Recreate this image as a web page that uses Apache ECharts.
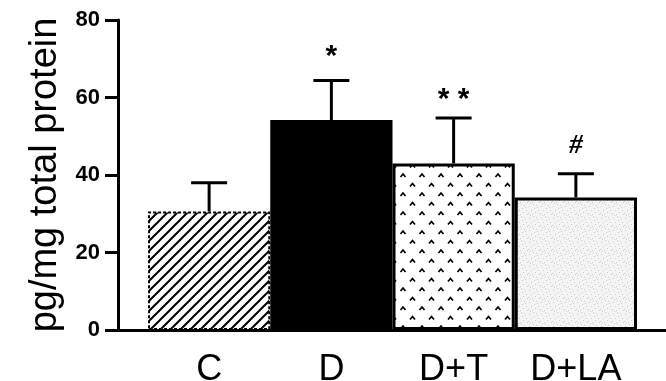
<!DOCTYPE html>
<html>
<head>
<meta charset="utf-8">
<script src="https://cdn.jsdelivr.net/npm/echarts@6/dist/echarts.min.js"></script>
<style>html,body{margin:0;padding:0;background:#fff}#chart{width:666px;height:381px}</style>
</head>
<body>
<div id="chart"></div>
<script>
// ---- data ----
const categories = ['C', 'D', 'D+T', 'D+LA'];
const means = [30.6, 54.2, 43.0, 34.2];
const upperErr = [38.0, 64.4, 54.7, 40.3];
const sigMarks = ['', '*', '* *', '#'];
const yTickLabels = [0, 20, 40, 60, 80];
const yTitle = 'pg/mg total protein';

// ---- patterns ----
function hatchPattern() {
  const c = document.createElement('canvas'); c.width = 10; c.height = 10;
  const g = c.getContext('2d');
  g.fillStyle = '#fff'; g.fillRect(0, 0, 10, 10);
  g.strokeStyle = '#000'; g.lineWidth = 2;
  g.beginPath();
  g.moveTo(-2, 12); g.lineTo(12, -2);
  g.moveTo(-7, 7); g.lineTo(7, -7);
  g.moveTo(3, 17); g.lineTo(17, 3);
  g.stroke();
  return c;
}
function caretPattern() {
  const c = document.createElement('canvas'); c.width = 19; c.height = 19;
  const g = c.getContext('2d');
  g.fillStyle = '#fff'; g.fillRect(0, 0, 19, 19);
  g.strokeStyle = '#000'; g.lineWidth = 1.7;
  function caret(x, y) { g.beginPath(); g.moveTo(x - 2.5, y + 2); g.lineTo(x, y - 1); g.lineTo(x + 2.5, y + 2); g.stroke(); }
  caret(4, 4); caret(13.5, 13.5);
  return c;
}
function stipplePattern() {
  const c = document.createElement('canvas'); c.width = 12; c.height = 12;
  const g = c.getContext('2d');
  g.fillStyle = '#f4f4f4'; g.fillRect(0, 0, 12, 12);
  g.fillStyle = '#c8c8c8';
  const pts = [[1,2],[5,0],[9,3],[3,6],[7,8],[11,10],[0,9],[6,4],[10,6],[2,11],[8,1],[4,10]];
  pts.forEach(p => g.fillRect(p[0], p[1], 1, 1));
  return c;
}
const barStyles = [
  { color: { image: hatchPattern(), repeat: 'repeat' }, borderColor: '#000', borderWidth: 2, borderType: [3, 2] },
  { color: '#000', borderColor: '#000', borderWidth: 0 },
  { color: { image: caretPattern(), repeat: 'repeat' }, borderColor: '#000', borderWidth: 3 },
  { color: { image: stipplePattern(), repeat: 'repeat' }, borderColor: '#000', borderWidth: 3 }
];
const markStyle = {
  '*': { dy: 24, font: 'bold 30px Liberation Sans, Arial, sans-serif' },
  '* *': { dy: 18, font: 'bold 30px Liberation Sans, Arial, sans-serif' },
  '#': { dy: 28, font: 'italic bold 27px Liberation Serif, Times New Roman, serif' }
};

const FONT = 'Liberation Sans, Arial, Helvetica, sans-serif';
const chart = echarts.init(document.getElementById('chart'), null, { renderer: 'canvas' });

const option = {
  animation: false,
  backgroundColor: '#fff',
  grid: [
    { left: 118, right: 0, top: 20, bottom: 51, containLabel: false, outerBoundsMode: 'none' },
    { left: 148, right: 29, top: 20, bottom: 51, containLabel: false, outerBoundsMode: 'none' }
  ],
  xAxis: [
    { type: 'value', gridIndex: 0, min: 0, max: 1, axisLine: { show: true, onZero: false, lineStyle: { color: '#000', width: 3 } },
      axisTick: { show: false }, axisLabel: { show: false }, splitLine: { show: false } },
    { type: 'category', gridIndex: 1, data: categories, boundaryGap: true,
      axisLine: { show: false }, axisTick: { show: false }, splitLine: { show: false },
      axisLabel: { color: '#000', fontSize: 36, fontFamily: FONT, margin: 22 } }
  ],
  yAxis: [
    { type: 'value', gridIndex: 0, min: 0, max: 80, interval: 20,
      name: yTitle, nameLocation: 'middle', nameGap: 52,
      nameTextStyle: { color: '#000', fontSize: 38, fontFamily: FONT },
      axisLine: { show: true, lineStyle: { color: '#000', width: 3 } },
      axisTick: { show: true, inside: false, length: 13, lineStyle: { color: '#000', width: 3 } },
      axisLabel: { color: '#000', fontSize: 22, fontWeight: 'bold', fontFamily: FONT, margin: 18,
        formatter: v => yTickLabels.indexOf(v) >= 0 ? String(v) : '' },
      splitLine: { show: false } },
    { type: 'value', gridIndex: 1, min: 0, max: 80, interval: 20, show: false }
  ],
  series: [
    { type: 'bar', xAxisIndex: 1, yAxisIndex: 1, barCategoryGap: '0%',
      data: means.map((v, i) => ({ value: v, itemStyle: barStyles[i] })), z: 2 },
    { type: 'custom', xAxisIndex: 1, yAxisIndex: 1, z: 1,
      data: categories.map((c, i) => [i, means[i], upperErr[i]]),
      renderItem: function (params, api) {
        const i = api.value(0);
        const p0 = api.coord([i, api.value(1)]);
        const p1 = api.coord([i, api.value(2)]);
        const hw = 18;
        const children = [
          { type: 'line', shape: { x1: p0[0], y1: p0[1], x2: p1[0], y2: p1[1] }, style: { stroke: '#000', lineWidth: 3 } },
          { type: 'line', shape: { x1: p1[0] - hw, y1: p1[1], x2: p1[0] + hw, y2: p1[1] }, style: { stroke: '#000', lineWidth: 3 } }
        ];
        const m = sigMarks[params.dataIndex];
        if (m) {
          const ms = markStyle[m];
          children.push({ type: 'text', z2: 10,
            style: { x: p1[0], y: p1[1] - ms.dy, text: m, align: 'center', verticalAlign: 'middle',
              fill: '#000', font: ms.font } });
        }
        return { type: 'group', children: children };
      }
    }
  ]
};
chart.setOption(option);
</script>
</body>
</html>
